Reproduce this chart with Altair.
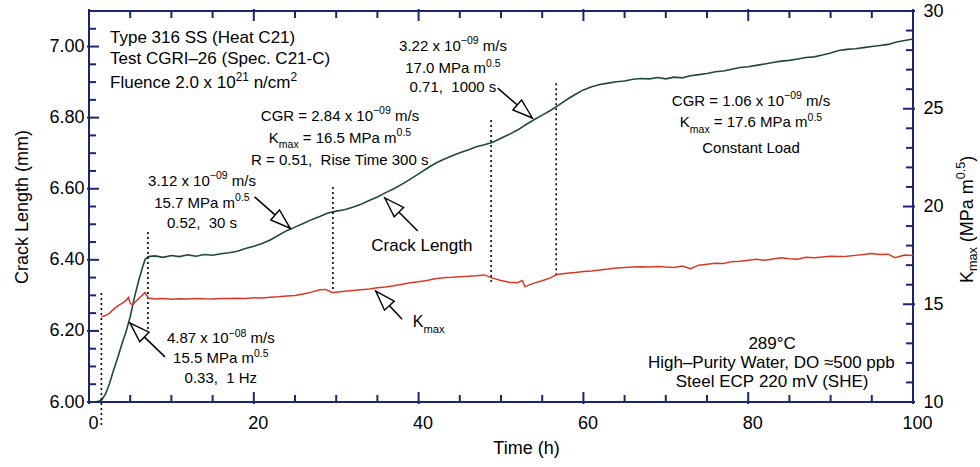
import math
import altair as alt
import pandas as pd

# ---------------- data: crack length (mm) vs time (h) ----------------
crack_time = [0, 0.5, 1.0, 1.5, 2.0, 2.5, 3.0, 3.5, 4.0, 4.5, 5.0, 5.5, 6.0, 6.5, 6.8, 7.2,
              8, 9, 10, 11, 12, 13, 14, 15, 16, 17, 18, 19, 20, 21, 22, 23, 24, 25, 26, 27,
              28, 29, 30, 31, 32, 33, 34, 35, 36, 37, 38, 39, 40, 41, 42, 43, 44, 45, 46,
              47, 48, 49, 50, 51, 52, 53, 54, 55, 56, 57, 58, 59, 60, 61, 62, 63, 64, 65,
              66, 67, 68, 69, 70, 71, 72, 73, 74, 75, 76, 77, 78, 79, 80, 81, 82, 83, 84,
              85, 86, 87, 88, 89, 90, 91, 92, 93, 94, 95, 96, 97, 98, 99, 100]
crack_mm = [6.000, 6.000, 6.001, 6.005, 6.022, 6.053, 6.091, 6.126, 6.164, 6.198, 6.240,
            6.293, 6.339, 6.379, 6.401, 6.409,
            6.411, 6.407, 6.412, 6.409, 6.414, 6.410, 6.415, 6.413, 6.417, 6.420, 6.424,
            6.432, 6.438, 6.446, 6.456, 6.469, 6.482, 6.492, 6.502, 6.513, 6.522, 6.532,
            6.537, 6.541, 6.548, 6.556, 6.567, 6.577, 6.589, 6.600, 6.613, 6.627, 6.642,
            6.657, 6.671, 6.682, 6.692, 6.701, 6.709, 6.718, 6.724, 6.731, 6.742, 6.753,
            6.765, 6.780, 6.794, 6.807, 6.820, 6.835, 6.851, 6.865, 6.878, 6.887, 6.893,
            6.897, 6.901, 6.903, 6.908, 6.910, 6.909, 6.913, 6.909, 6.914, 6.912, 6.918,
            6.921, 6.924, 6.929, 6.931, 6.936, 6.941, 6.943, 6.947, 6.951, 6.955, 6.959,
            6.961, 6.965, 6.969, 6.971, 6.976, 6.982, 6.989, 6.992, 6.994, 6.997, 7.000,
            7.003, 7.006, 7.013, 7.017, 7.021]

# ---------------- data: Kmax (MPa m^0.5) vs time (h) ----------------
kmax_time = [1.5, 2.0, 2.5, 3.0, 3.5, 4.0, 4.5, 4.8, 5.0, 5.3, 5.7, 6.2, 6.8, 7.2,
             8, 9, 10, 11, 12, 13, 14, 15, 16, 17, 18, 19, 20, 21, 22, 23, 24, 25, 26, 27,
             28, 28.7, 29.5, 30, 31, 32, 33, 34, 35, 36, 37, 38, 39, 40, 41, 42, 43, 44, 45,
             46, 47, 48, 48.8, 50, 51, 52, 52.6, 52.9, 54, 55, 56, 56.8, 58, 59, 60, 61, 62,
             63, 64, 65, 66, 67, 68, 69, 70, 71, 72, 73, 74, 75, 76, 77, 78, 79, 80, 81, 82,
             83, 84, 85, 86, 87, 88, 89, 90, 91, 92, 93, 94, 95, 96, 97, 97.8, 99, 100]
kmax_val = [14.36, 14.42, 14.55, 14.75, 14.92, 15.05, 15.20, 15.35, 15.05, 14.97, 15.15,
            15.35, 15.60, 15.32,
            15.27, 15.30, 15.26, 15.28, 15.27, 15.30, 15.28, 15.27, 15.30, 15.29, 15.31,
            15.30, 15.33, 15.32, 15.36, 15.38, 15.42, 15.45, 15.52, 15.62, 15.74, 15.76,
            15.60, 15.62, 15.66, 15.70, 15.74, 15.78, 15.84, 15.88, 15.95, 16.02, 16.10,
            16.15, 16.22, 16.30, 16.36, 16.38, 16.41, 16.43, 16.46, 16.50, 16.36, 16.22,
            16.12, 16.10, 16.22, 15.90, 16.08, 16.20, 16.35, 16.52, 16.58, 16.62, 16.68,
            16.70, 16.75, 16.80, 16.86, 16.88, 16.90, 16.92, 16.90, 16.93, 16.90, 16.88,
            16.95, 16.82, 17.00, 17.05, 17.10, 17.08, 17.18, 17.20, 17.25, 17.30, 17.25,
            17.32, 17.38, 17.33, 17.30, 17.40, 17.38, 17.42, 17.45, 17.44, 17.45, 17.50,
            17.55, 17.60, 17.54, 17.56, 17.38, 17.52, 17.49]

# ---------------- axis ticks ----------------
x_major = [0, 20, 40, 60, 80, 100]
x_minor = [5, 10, 15, 25, 30, 35, 45, 50, 55, 65, 70, 75, 85, 90, 95]
mm_major = [6.0, 6.2, 6.4, 6.6, 6.8, 7.0]
mm_minor = [6.05, 6.1, 6.15, 6.25, 6.3, 6.35, 6.45, 6.5, 6.55, 6.65, 6.7, 6.75,
            6.85, 6.9, 6.95, 7.05]
k_major = [10, 15, 20, 25, 30]
k_minor = [11, 12, 13, 14, 16, 17, 18, 19, 21, 22, 23, 24, 26, 27, 28, 29]

# ---------------- test-period boundaries (dotted) ----------------
bound_t = [1.5, 7.15, 29.6, 48.8, 56.7]
bound_top = [6.307, 6.478, 6.605, 6.793, 6.897]
bound_bot = [5.935, 6.194, 6.307, 6.338, 6.357]

# ---------------- arrows: tail -> tip ----------------
arrow_tail_t = [9.22, 20.1, 39.9, 38.0, 49.6]
arrow_tail_mm = [6.127, 6.577, 6.481, 6.233, 6.883]
arrow_tip_t = [4.98, 24.4, 35.9, 34.8, 53.8]
arrow_tip_mm = [6.222, 6.489, 6.574, 6.312, 6.799]

# ---------------- layout ----------------
W_PX, H_PX = 824, 391
T_DOM = [0, 100]
MM_DOM = [6.0, 7.1]
K_DOM = [10, 30]
NAVY = "#1c2570"
GREEN = "#1f4a36"
RED = "#d63a26"
FONT = "Liberation Sans"

xs = alt.Scale(domain=T_DOM, nice=False, zero=False)
ys = alt.Scale(domain=MM_DOM, nice=False, zero=False)
ks = alt.Scale(domain=K_DOM, nice=False, zero=False)

x_axis = alt.Axis(values=x_major, format="d", ticks=False, tickSize=0, domain=False,
                  grid=False, labelFontSize=18, labelPadding=12, labelOffset=4,
                  labelFlush=False, title="Time (h)", titleFontSize=18, titlePadding=7,
                  titleX=437)
y_axis = alt.Axis(values=mm_major, format=".2f", ticks=False, tickSize=0, domain=False,
                  grid=False, labelFontSize=18, labelPadding=5, labelFlush=False,
                  title="Crack Length (mm)", titleFontSize=18, titlePadding=17)
k_axis = alt.Axis(orient="right", values=k_major, format="d", ticks=False, tickSize=0,
                  domain=False, grid=False, labelFontSize=18, labelPadding=10,
                  labelFlush=False)

X = alt.X("t:Q", scale=xs, axis=x_axis)
Y = alt.Y("mm:Q", scale=ys, axis=y_axis)
X2 = alt.X2("t2")
Y2 = alt.Y2("mm2")

# Arial / Liberation Sans advance widths (1/1000 em)
ADV = {" ": 278, "(": 333, ")": 333, ",": 278, "-": 333, ".": 278,
       "/": 278, "=": 584, "°": 400, "≈": 549, "–": 556, "−": 584,
       "A": 667, "B": 667, "C": 722, "D": 722, "E": 667, "F": 611, "G": 778, "H": 722,
       "I": 278, "K": 667, "L": 556, "M": 833, "O": 778, "P": 667, "R": 722, "S": 667,
       "T": 611, "V": 667, "W": 944,
       "a": 556, "c": 500, "d": 556, "e": 556, "g": 556, "h": 556, "i": 222, "k": 500,
       "l": 222, "m": 833, "n": 556, "o": 556, "p": 556, "r": 333, "s": 500, "t": 278,
       "u": 556, "x": 500, "y": 500, "z": 500}


def seg_size(size, role):
    return size if role == "n" else round(size * 0.7, 1)


def seg_width(txt, fs):
    return sum(ADV.get(c, 556) for c in txt) * fs / 1000.0


def rich_offsets(segments, size, align, sub_shift=0.38, sup_shift=0.45):
    """Left offsets (px) and vertical shifts for a line of normal/sup/sub pieces."""
    sizes = [seg_size(size, r) for _, r in segments]
    widths = [seg_width(t, fs) for (t, _), fs in zip(segments, sizes)]
    total = sum(widths)
    off = {"left": 0.0, "center": -total / 2.0, "right": -total}[align]
    out = []
    for (txt, role), fs, w in zip(segments, sizes, widths):
        shift = {"n": 0.0, "sup": -sup_shift * size, "sub": sub_shift * size}[role]
        lead = len(txt) - len(txt.lstrip(" "))
        body = txt.strip(" ").replace(" ", "\u00a0")
        out.append((body, fs, off + seg_width(" " * lead, fs), shift))
        off += w
    return out


def text_block(t, mm_list, align, size, lines):
    layers = []
    base = 0.36 * size  # center of cap height -> baseline
    for mm, segs in zip(mm_list, lines):
        for txt, fs, off, shift in rich_offsets(segs, size, align):
            df = pd.DataFrame({"t": [t], "mm": [mm], "s": [txt]})
            layers.append(
                alt.Chart(df).mark_text(align="left", baseline="alphabetic", font=FONT,
                                        fontSize=fs, dx=off, dy=base + shift,
                                        color="black")
                .encode(x=X, y=Y, text="s:N"))
    return layers


def n(s):
    return (s, "n")


SUP09 = ("−09", "sup")
HALF = ("0.5", "sup")
SUB = ("max", "sub")

texts = []
texts += text_block(2.55, [7.027, 6.968, 6.900], "left", 17, [
    [n("Type 316 SS (Heat C21)")],
    [n("Test CGRI–26 (Spec. C21-C)")],
    [n("Fluence 2.0 x 10"), ("21", "sup"), n(" n/cm"), ("2", "sup")],
])
texts += text_block(30.46, [6.807, 6.745, 6.681], "center", 15, [
    [n("CGR = 2.84 x 10"), SUP09, n(" m/s")],
    [n("K"), SUB, n(" = 16.5 MPa m"), HALF],
    [n("R = 0.51,  Rise Time 300 s")],
])
texts += text_block(44.17, [7.004, 6.940, 6.886], "center", 15, [
    [n("3.22 x 10"), SUP09, n(" m/s")],
    [n("17.0 MPa m"), HALF],
    [n("0.71,  1000 s")],
])
texts += text_block(80.34, [6.849, 6.788, 6.717], "center", 15, [
    [n("CGR = 1.06 x 10"), SUP09, n(" m/s")],
    [n("K"), SUB, n(" = 17.6 MPa m"), HALF],
    [n("Constant Load")],
])
texts += text_block(13.71, [6.624, 6.562, 6.506], "center", 15, [
    [n("3.12 x 10"), SUP09, n(" m/s")],
    [n("15.7 MPa m"), HALF],
    [n("0.52,  30 s")],
])
texts += text_block(16.0, [6.180, 6.124, 6.068], "center", 15, [
    [n("4.87 x 10"), ("−08", "sup"), n(" m/s")],
    [n("15.5 MPa m"), HALF],
    [n("0.33,  1 Hz")],
])
texts += text_block(82.9, [6.166, 6.113, 6.059], "center", 17, [
    [n("289°C")],
    [n("High–Purity Water, DO ≈500 ppb")],
    [n("Steel ECP 220 mV (SHE)")],
])
texts += text_block(40.4, [6.442], "center", 17, [[n("Crack Length")]])
texts += text_block(39.3, [6.228], "left", 16, [[n("K"), ("max", "sub")]])

# ---------------- marks on the crack-length scale ----------------
crack_df = pd.DataFrame({"t": crack_time, "mm": crack_mm})
crack_line = alt.Chart(crack_df).mark_line(color=GREEN, strokeWidth=1.6).encode(x=X, y=Y)

bound_df = pd.DataFrame({"t": bound_t, "mm": bound_top, "mm2": bound_bot})
bounds = alt.Chart(bound_df).mark_rule(color="black", strokeWidth=1.6,
                                       strokeDash=[2, 3]).encode(x=X, y=Y, y2=Y2)

px_t = W_PX / (T_DOM[1] - T_DOM[0])
px_mm = H_PX / (MM_DOM[1] - MM_DOM[0])
angles = []
for tt, mt, tp, mp in zip(arrow_tail_t, arrow_tail_mm, arrow_tip_t, arrow_tip_mm):
    dxp = (tp - tt) * px_t
    dyp = -(mp - mt) * px_mm
    angles.append(math.degrees(math.atan2(dxp, -dyp)) % 360)

shaft_df = pd.DataFrame({"t": arrow_tail_t, "mm": arrow_tail_mm,
                         "t2": arrow_tip_t, "mm2": arrow_tip_mm})
shafts = alt.Chart(shaft_df).mark_rule(color="black", strokeWidth=1.5).encode(
    x=X, y=Y, x2=X2, y2=Y2)

head_df = pd.DataFrame({"t": arrow_tip_t, "mm": arrow_tip_mm, "ang": angles})
heads = alt.Chart(head_df).mark_point(
    shape="M0,0L-0.7,2.1L0.7,2.1Z", size=361, filled=True, fill="white",
    stroke="black", strokeWidth=1.4, opacity=1
).encode(x=X, y=Y, angle=alt.Angle("ang:Q", scale=None))

# inward ticks on left, top and bottom frame edges
lt_major = alt.Chart(pd.DataFrame({"mm": mm_major})).mark_rule(
    color=NAVY, strokeWidth=2).encode(y=Y, x=alt.value(-2), x2=alt.value(10))
lt_minor = alt.Chart(pd.DataFrame({"mm": mm_minor})).mark_rule(
    color=NAVY, strokeWidth=2).encode(y=Y, x=alt.value(0), x2=alt.value(7))
xt_major = pd.DataFrame({"t": x_major})
xt_minor = pd.DataFrame({"t": x_minor})
bt_major = alt.Chart(xt_major).mark_rule(color=NAVY, strokeWidth=2).encode(
    x=X, y=alt.value(H_PX + 2), y2=alt.value(H_PX - 10))
bt_minor = alt.Chart(xt_minor).mark_rule(color=NAVY, strokeWidth=2).encode(
    x=X, y=alt.value(H_PX), y2=alt.value(H_PX - 7))
tt_major = alt.Chart(xt_major).mark_rule(color=NAVY, strokeWidth=2).encode(
    x=X, y=alt.value(-2), y2=alt.value(10))
tt_minor = alt.Chart(xt_minor).mark_rule(color=NAVY, strokeWidth=2).encode(
    x=X, y=alt.value(0), y2=alt.value(7))

left = alt.layer(crack_line, bounds, shafts, heads, lt_major, lt_minor,
                 bt_major, bt_minor, tt_major, tt_minor, *texts)

# ---------------- marks on the Kmax scale ----------------
YK = alt.Y("k:Q", scale=ks, axis=k_axis, title=None)
k_df = pd.DataFrame({"t": kmax_time, "k": kmax_val})
k_line = alt.Chart(k_df).mark_line(color=RED, strokeWidth=1.5).encode(x=X, y=YK)
rk_major = alt.Chart(pd.DataFrame({"k": k_major})).mark_rule(
    color=NAVY, strokeWidth=2).encode(y=YK, x=alt.value(W_PX - 10), x2=alt.value(W_PX + 2))
rk_minor = alt.Chart(pd.DataFrame({"k": k_minor})).mark_rule(
    color=NAVY, strokeWidth=2).encode(y=YK, x=alt.value(W_PX - 7), x2=alt.value(W_PX))

# rotated right-hand axis title with subscript/superscript
k_title = []
for txt, fs, off, shift in rich_offsets(
        [n("K"), ("max", "sub"), n(" (MPa m"), ("0.5", "sup"), n(")")], 18, "left",
        sub_shift=0.2, sup_shift=0.42):
    k_title.append(
        alt.Chart(pd.DataFrame({"s": [txt]})).mark_text(
            align="left", baseline="alphabetic", angle=270, font=FONT, fontSize=fs,
            dx=off, dy=shift, color="black")
        .encode(x=alt.value(W_PX + 60), y=alt.value(272), text="s:N"))

right = alt.layer(k_line, rk_major, rk_minor, *k_title)

chart = (
    alt.layer(left, right)
    .resolve_scale(y="independent")
    .properties(width=W_PX, height=H_PX,
                padding={"left": 89, "top": 11, "right": 67, "bottom": 65},
                autosize=alt.AutoSizeParams(type="none"), background="white")
    .configure_view(stroke=NAVY, strokeWidth=2)
    .configure_axis(labelFont=FONT, titleFont=FONT, labelColor="black",
                    titleColor="black", titleFontWeight="normal")
)

chart.save("out.html", embed_options={"renderer": "svg", "actions": False})
